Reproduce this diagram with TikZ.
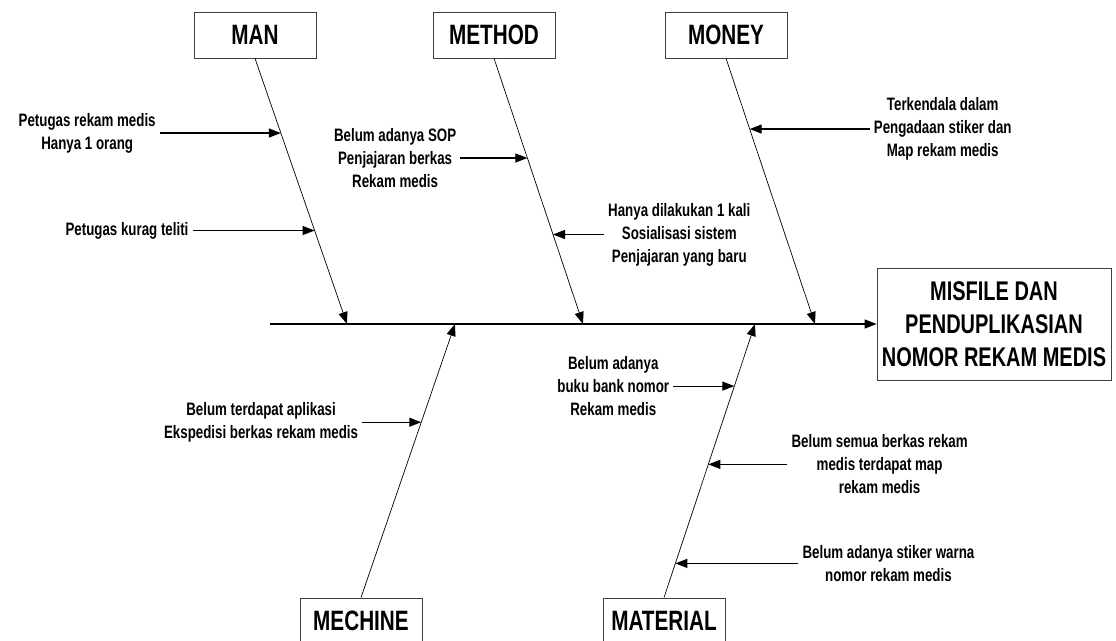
\documentclass[tikz,border=0pt]{standalone}
\usepackage{fontspec}
\setmainfont{Liberation Sans}[FakeStretch=0.74]
\usetikzlibrary{arrows.meta, positioning}

\begin{document}
\begin{tikzpicture}[
  x=1pt, y=-1pt,
  >={Triangle[length=12pt, width=9pt]},
  catbox/.style={draw=black!75, line width=0.8pt, minimum width=122pt, minimum height=46pt, inner sep=0pt, font=\fontsize{28}{33}\selectfont\bfseries},
  effectbox/.style={draw=black!75, line width=0.8pt, minimum width=234pt, minimum height=112pt, inner sep=0pt, align=center, font=\fontsize{27}{33}\selectfont\bfseries},
  cause/.style={align=center, inner sep=4pt, font=\fontsize{18}{23}\selectfont\bfseries},
  bone/.style={->, line width=0.7pt},
  sub/.style={->, line width=1.2pt},
]
  \useasboundingbox (0,0) rectangle (1116,640);
  \clip (0,0) rectangle (1116,640);

  \foreach \name/\txt/\x/\y in {man/MAN/255/35, method/METHOD/494/35, money/MONEY/726/35,
                                mechine/MECHINE/361/621, material/MATERIAL/664/621}
    \node[catbox] (\name) at (\x,\y) {\txt};
  \node[effectbox] (effect) at (994,324) {MISFILE DAN\\PENDUPLIKASIAN\\NOMOR REKAM MEDIS};

  \coordinate (tail) at (270,324);
  \foreach \idx/\x in {1/347, 2/583, 3/815, 4/455, 5/755}
    \coordinate (h\idx) at (\x,324);

  \draw[sub] (tail) -- (effect);

  \draw[bone] (man.south) -- coordinate[pos=.281] (m1) coordinate[pos=.648] (m2) (h1);
  \draw[bone] (method.south) -- coordinate[pos=.375] (q1) coordinate[pos=.663] (q2) (h2);
  \draw[bone] (money.south) -- coordinate[pos=.266] (y1) (h3);
  \draw[bone] (mechine.north) -- coordinate[pos=.641] (e1) (h4);
  \draw[bone] (material.north) -- coordinate[pos=.773] (t1) coordinate[pos=.487] (t2) coordinate[pos=.125] (t3) (h5);

  \node[cause, left=121pt of m1] (man1) {Petugas rekam medis\\Hanya 1 orang};
  \node[cause, left=122pt of m2] (man2) {Petugas kurag teliti};
  \node[cause, left=67pt of q1] (method1) {Belum adanya SOP\\Penjajaran berkas\\Rekam medis};
  \node[cause, right=51pt of q2] (method2) {Hanya dilakukan 1 kali\\Sosialisasi sistem\\Penjajaran yang baru};
  \node[cause, right=120pt of y1] (money1) {Terkendala dalam\\Pengadaan stiker dan\\Map rekam medis};
  \node[cause, left=59pt of e1] (mechine1) {Belum terdapat aplikasi\\Ekspedisi berkas rekam medis};
  \node[cause, left=61pt of t1] (material1) {Belum adanya\\buku bank nomor\\Rekam medis};
  \node[cause, right=79pt of t2] (material2) {Belum semua berkas rekam\\medis terdapat map\\rekam medis};
  \node[cause, right=123pt of t3] (material3) {Belum adanya stiker warna\\nomor rekam medis};

  \draw[sub] (man1) -- (m1);
  \draw[sub] (man2) -- (m2);
  \draw[sub] (method1) -- (q1);
  \draw[sub] (method2) -- (q2);
  \draw[sub] (money1) -- (y1);
  \draw[sub] (mechine1) -- (e1);
  \draw[sub] (material1) -- (t1);
  \draw[sub] (material2) -- (t2);
  \draw[sub] (material3) -- (t3);
\end{tikzpicture}
\end{document}
